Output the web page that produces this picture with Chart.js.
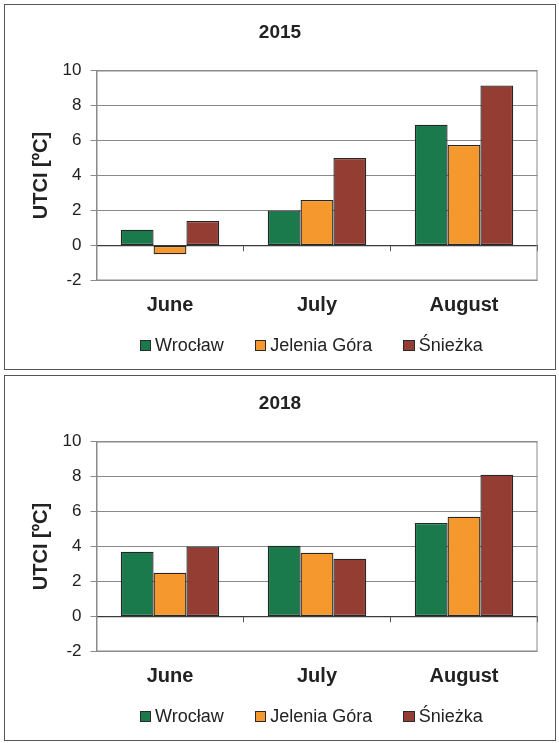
<!DOCTYPE html>
<html>
<head>
<meta charset="utf-8">
<script src="https://cdn.jsdelivr.net/npm/chart.js@4"></script>
<style>
  html, body { margin: 0; padding: 0; background: #fff; }
  .panel {
    position: absolute; left: 4px; width: 550px; height: 364px;
    border: 1.5px solid #555; background: #fff; overflow: hidden;
  }
  #p2015 { top: 4px; }
  #p2018 { top: 375px; }
  canvas { display: block; }
  .legend {
    position: absolute; left: 134.5px; top: 330px; height: 21px;
    display: flex; align-items: center; gap: 31px;
    font-family: 'Liberation Sans', Arial, sans-serif; font-size: 18px; color: #222;
    white-space: nowrap;
  }
  .legend-item { display: flex; align-items: center; }
  .legend-box {
    width: 9.5px; height: 9.5px; border: 1px solid #2a2a2a; margin-right: 4px;
  }
</style>
</head>
<body>
<div class="panel" id="p2015">
  <canvas id="c2015" width="550" height="364"></canvas>
  <div class="legend" id="l2015"></div>
</div>
<div class="panel" id="p2018">
  <canvas id="c2018" width="550" height="364"></canvas>
  <div class="legend" id="l2018"></div>
</div>
<script>
// ── DATA ─────────────────────────────────────────
const MONTHS = ["June", "July", "August"];
const STATIONS = ["Wrocław", "Jelenia Góra", "Śnieżka"];
const COLORS = ["#1b7a4b", "#f5992f", "#943d33"];

const WROCLAW_2015 = [0.9, 2.0, 6.9];
const JELENIA_2015 = [-0.5, 2.6, 5.75];
const SNIEZKA_2015 = [1.4, 5.0, 9.15];

const WROCLAW_2018 = [3.7, 4.05, 5.35];
const JELENIA_2018 = [2.5, 3.65, 5.7];
const SNIEZKA_2018 = [4.0, 3.3, 8.1];

const Y_MIN = -2, Y_MAX = 10, Y_STEP = 2;

const FONT = "'Liberation Sans', Arial, sans-serif";

// plot frame (grey box round the chart area)
const framePlugin = {
  id: "frame",
  afterDraw(chart) {
    const { ctx, chartArea: a } = chart;
    ctx.save();
    ctx.strokeStyle = "#8a8a8a";
    ctx.lineWidth = 1;
    ctx.strokeRect(a.left + 0.5, a.top + 0.5, a.right - a.left - 1, a.bottom - a.top - 1);
    ctx.restore();
  }
};

// ── HTML LEGEND ──────────────────────────────────
function buildLegend(chart, el) {
  chart.data.datasets.forEach(ds => {
    const item = document.createElement("div");
    item.className = "legend-item";
    item.innerHTML = `<div class="legend-box" style="background:${ds.backgroundColor}"></div><span>${ds.label}</span>`;
    el.appendChild(item);
  });
}

// ── CHART ────────────────────────────────────────
function buildChart(id, year, series) {
  const ctx = document.getElementById("c" + id).getContext("2d");
  const chart = new Chart(ctx, {
    type: "bar",
    data: {
      labels: MONTHS,
      datasets: series.map((vals, i) => ({
        label: STATIONS[i],
        data: vals,
        backgroundColor: COLORS[i],
        borderColor: "#262626",
        borderWidth: 1.3,
        borderSkipped: false,
        barPercentage: 1.0,
        categoryPercentage: 0.67,
      })),
    },
    plugins: [framePlugin],
    options: {
      responsive: false,
      animation: false,
      layout: { padding: { left: 17.5, right: 17.5, top: 0, bottom: 0 } },
      plugins: {
        title: {
          display: true,
          text: year,
          color: "#222",
          font: { family: FONT, size: 19, weight: "bold" },
          padding: { top: 16.6, bottom: 26.1 },
        },
        legend: { display: false },
        tooltip: { enabled: false },
      },
      scales: {
        x: {
          position: "bottom",
          afterFit: s => { s.height = 88.5; },
          grid: { display: false, drawTicks: false },
          border: { display: false },
          ticks: {
            color: "#222",
            padding: 12.5,
            font: { family: FONT, size: 20, weight: "bold" },
          },
        },
        x0: {
          type: "category",
          labels: MONTHS,
          position: { y: 0 },
          offset: true,
          afterFit: s => { s.height = 0; },
          grid: {
            offset: true,
            drawOnChartArea: false,
            drawTicks: true,
            tickLength: 5,
            color: "#555",
          },
          border: { display: true, color: "#3a3a3a", width: 1.2 },
          ticks: { display: false },
        },
        y: {
          min: Y_MIN,
          max: Y_MAX,
          afterFit: s => { s.width = 74; },
          grid: { color: "#8a8a8a", lineWidth: 1, tickLength: 6 },
          border: { display: true, color: "#8a8a8a" },
          ticks: {
            stepSize: Y_STEP,
            color: "#222",
            padding: 9,
            font: { family: FONT, size: 17 },
          },
          title: {
            display: true,
            text: "UTCI [ºC]",
            color: "#222",
            padding: { top: 6.5, bottom: 0 },
            font: { family: FONT, size: 20, weight: "bold" },
          },
        },
      },
    },
  });
  buildLegend(chart, document.getElementById("l" + id));
  return chart;
}

buildChart("2015", "2015", [WROCLAW_2015, JELENIA_2015, SNIEZKA_2015]);
buildChart("2018", "2018", [WROCLAW_2018, JELENIA_2018, SNIEZKA_2018]);
</script>
</body>
</html>
